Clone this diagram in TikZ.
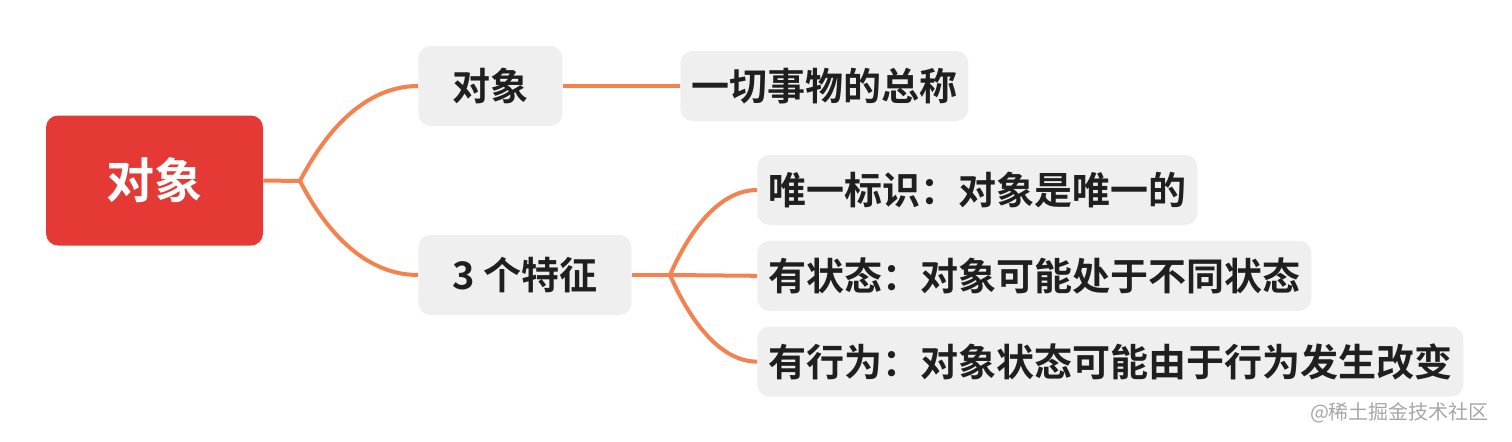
\documentclass[tikz,border=0pt]{standalone}
\usepackage{fontspec}
\setmainfont{Noto Sans CJK SC}[BoldFont={Noto Sans CJK SC Bold}]
\usetikzlibrary{positioning}
\definecolor{rootred}{HTML}{E53935}
\definecolor{branch}{HTML}{F5814F}
\definecolor{topicgray}{HTML}{EFEFEF}
\definecolor{inkdark}{HTML}{1F1F1F}

\begin{document}
\begin{tikzpicture}[
    x=0.5pt, y=-0.5pt,
    root/.style={fill=rootred, rounded corners=6pt, minimum width=108.5pt,
                 minimum height=65pt, text=white,
                 font=\fontsize{24}{28}\selectfont\bfseries},
    topic/.style={fill=topicgray, rounded corners=6pt, minimum height=40pt,
                  inner xsep=17pt, text=inkdark,
                  font=\fontsize{19}{23}\selectfont\bfseries},
    leaf/.style={fill=topicgray, rounded corners=6pt, minimum height=35pt,
                 inner xsep=5.5pt, text=inkdark,
                 font=\fontsize{19}{23}\selectfont\bfseries},
    link/.style={draw=branch, line width=2pt}
  ]
  \useasboundingbox (0,0) rectangle (1512,441);

  \node[root] (root) at (154.5,180.5) {对象};
  \node[topic, anchor=west] (obj) at (418,86) {对象};
  \node[leaf, anchor=west] (objdef) at (680,86) {一切事物的总称};
  \node[topic, anchor=west] (feat) at (418,275) {3 个特征};
  \node[leaf, anchor=west] (uid) at (757,190) {唯一标识：对象是唯一的};
  \node[leaf, below right=7.5pt and 0pt of uid.south west] (state)
    {有状态：对象可能处于不同状态};
  \node[leaf, below right=7.5pt and 0pt of state.south west] (behav)
    {有行为：对象状态可能由于行为发生改变};

  % forks
  \coordinate (fork1) at (300,181);
  \coordinate (fork2) at (670,275);

  \draw[link] (root.east) -- (fork1);
  \draw[link] (fork1) .. controls +(32,-62) and +(-45,0) .. (obj.west);
  \draw[link] (fork1) .. controls +(32,62) and +(-45,0) .. (feat.west);
  \draw[link] (obj.east) -- (objdef.west);

  \draw[link] (feat.east) -- (fork2);
  \draw[link] (fork2) .. controls +(22,-50) and +(-35,0) .. (uid.west);
  \draw[link] (fork2) -- (state.west);
  \draw[link] (fork2) .. controls +(22,50) and +(-35,0) .. (behav.west);

  \node[text=black!35, font=\fontsize{10}{12}\selectfont, anchor=east]
    (mark) at (1496,413) {@稀土掘金技术社区};
\end{tikzpicture}
\end{document}
